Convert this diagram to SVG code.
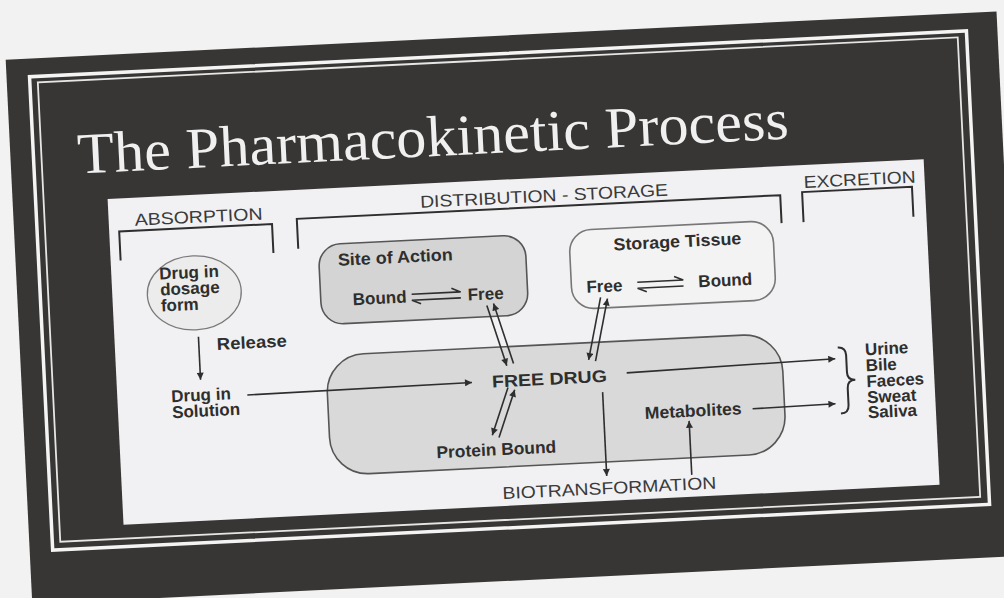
<svg xmlns="http://www.w3.org/2000/svg" width="1004" height="598" viewBox="0 0 1004 598">
<style>
.t{font-family:"Liberation Sans",Arial,sans-serif;fill:#2e2e2e}
.b{font-weight:bold;font-size:17px}
.h{font-size:17px;fill:#3a3a3a}
.ln{stroke:#2e2e2e;stroke-width:1.6;fill:none}
.br{stroke:#2e2e2e;stroke-width:2;fill:none}
.arr{stroke:#2e2e2e;stroke-width:1.6;fill:none;marker-end:url(#ah)}
.box{stroke:#555;stroke-width:1.6}
</style>
<defs>
<marker id="ah" viewBox="0 0 10 10" refX="10" refY="5" markerWidth="9" markerHeight="7" markerUnits="userSpaceOnUse" orient="auto">
<path d="M0,0 L10,5 L0,10 z" fill="#2e2e2e"/>
</marker>
</defs>
<rect width="1004" height="598" fill="#f2f2f2"/>
<g transform="rotate(-2.8 500 300)">
  <g id="slide-frame">
    <rect x="18" y="36" width="992" height="545" fill="#383634"/>
    <rect x="41" y="54" width="938" height="474" fill="none" stroke="#f4f4f4" stroke-width="3.5"/>
    <rect x="49" y="60" width="921" height="460" fill="none" stroke="#e6e6e6" stroke-width="1.8"/>
    <text x="85" y="153" font-family="'Liberation Serif','Times New Roman',serif" font-size="58" textLength="712" lengthAdjust="spacingAndGlyphs" fill="#f0f0f0">The Pharmacokinetic Process</text>
    <rect x="113" y="180" width="817" height="326" fill="#f1f1f3"/>
  </g>
  <g id="stage-absorption">
    <text class="t h" x="139" y="208" textLength="128" lengthAdjust="spacingAndGlyphs">ABSORPTION</text>
    <path class="br" d="M123,242 V213 H276 V242"/>
  </g>
  <g id="stage-distribution">
    <text class="t h" x="425" y="204" textLength="248" lengthAdjust="spacingAndGlyphs">DISTRIBUTION - STORAGE</text>
    <path class="br" d="M301,239 V209 H785 V237"/>
  </g>
  <g id="stage-excretion">
    <text class="t h" x="809" y="203" textLength="112" lengthAdjust="spacingAndGlyphs">EXCRETION</text>
    <path class="br" d="M807,237 V207 H917 V237"/>
  </g>
  <g id="dosage-form">
    <ellipse cx="195" cy="278" rx="47" ry="37" fill="#ececec" stroke="#7a7a7a" stroke-width="1.3"/>
    <text class="t b" x="161" y="263">Drug in</text>
    <text class="t b" x="161" y="279">dosage</text>
    <text class="t b" x="161" y="295">form</text>
  </g>
  <g id="release-label">
    <text class="t b" x="215" y="336" textLength="70" lengthAdjust="spacingAndGlyphs">Release</text>
  </g>
  <g id="drug-solution">
    <text class="t b" x="167" y="386">Drug in</text>
    <text class="t b" x="167" y="402">Solution</text>
  </g>
  <g id="site-of-action">
    <rect class="box" x="321" y="236" width="207" height="80" rx="22" fill="#d4d4d4"/>
    <text class="t b" x="340" y="258" textLength="115" lengthAdjust="spacingAndGlyphs">Site of Action</text>
    <text class="t b" x="353" y="298">Bound</text>
    <text class="t b" x="468" y="299">Free</text>
    <path class="ln" d="M412,290 H461 l-9,-4"/>
    <path class="ln" d="M461,296 H412 l9,4"/>
  </g>
  <g id="storage-tissue">
    <rect x="572" y="234" width="204" height="79" rx="22" fill="#f3f3f3" stroke="#777" stroke-width="1.6"/>
    <text class="t b" x="616" y="256" textLength="128" lengthAdjust="spacingAndGlyphs">Storage Tissue</text>
    <text class="t b" x="587" y="297">Free</text>
    <text class="t b" x="699" y="297">Bound</text>
    <path class="ln" d="M638,289 H684 l-9,-4"/>
    <path class="ln" d="M684,295 H638 l9,4"/>
  </g>
  <g id="plasma">
    <rect class="box" x="323" y="347" width="456" height="120" rx="38" fill="#d9d9d9"/>
  </g>
  <g id="free-drug">
    <text class="t b" x="488" y="387" textLength="115" lengthAdjust="spacingAndGlyphs">FREE DRUG</text>
  </g>
  <g id="protein-bound">
    <text class="t b" x="429" y="455" textLength="120" lengthAdjust="spacingAndGlyphs">Protein Bound</text>
  </g>
  <g id="metabolites">
    <text class="t b" x="639" y="426" textLength="97" lengthAdjust="spacingAndGlyphs">Metabolites</text>
  </g>
  <g id="excretion-routes">
    <path class="br" d="M835,364 q8,0 8,8 v17 q0,8 8,8 q-8,0 -8,8 v17 q0,8 -8,8"/>
    <text class="t b" x="862" y="373">Urine</text>
    <text class="t b" x="862" y="389">Bile</text>
    <text class="t b" x="862" y="405">Faeces</text>
    <text class="t b" x="862" y="421">Sweat</text>
    <text class="t b" x="862" y="436">Saliva</text>
  </g>
  <g id="biotransformation">
    <text class="t h" x="493" y="499" textLength="214" lengthAdjust="spacingAndGlyphs">BIOTRANSFORMATION</text>
  </g>
  <g id="connectors">
    <path class="arr" d="M197,322 V365"/>
    <path class="arr" d="M243,382.5 L468,381"/>
    <path class="arr" d="M486.6,304.9 L503.6,365.9"/>
    <path class="arr" d="M510.4,364.1 L493.4,303.1"/>
    <path class="arr" d="M600.6,302.2 L585.6,364.2"/>
    <path class="arr" d="M592.4,365.8 L607.4,303.8"/>
    <path class="arr" d="M503.7,387.7 L485.7,434.7"/>
    <path class="arr" d="M492.3,437.3 L510.3,390.3"/>
    <path class="arr" d="M623,379 L832,375"/>
    <path class="arr" d="M747,421 L830,420"/>
    <path class="arr" d="M598,397 V481"/>
    <path class="arr" d="M683,484 V430"/>
  </g>
</g>
</svg>
